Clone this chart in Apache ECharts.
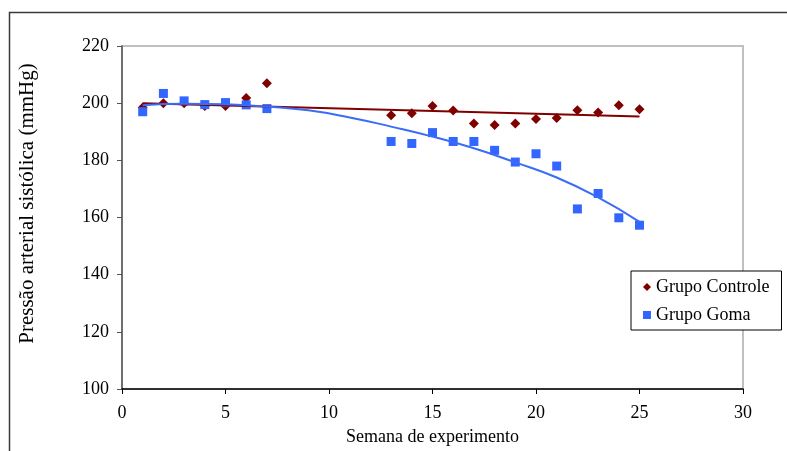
<!DOCTYPE html>
<html>
<head>
<meta charset="utf-8">
<script src="https://cdn.jsdelivr.net/npm/echarts@6/dist/echarts.min.js"></script>
<style>
  html, body { margin: 0; padding: 0; background: #fff; }
  #chart { width: 787px; height: 451px; }
</style>
</head>
<body>
<div id="chart"></div>
<script>
// semanas com medição
var weeks = [1, 2, 3, 4, 5, 6, 7, 13, 14, 15, 16, 17, 18, 19, 20, 21, 22, 23, 24, 25];
var controle = [198.5, 200, 200, 199, 199, 201.8, 207, 195.8, 196.5, 199, 197.4, 192.9, 192.4, 192.9, 194.5, 194.8, 197.5, 196.7, 199.3, 197.9];
var goma = [197, 203.4, 200.8, 199.5, 200.2, 199.4, 198.1, 186.6, 185.9, 189.7, 186.6, 186.6, 183.5, 179.4, 182.3, 178, 163, 168.4, 159.9, 157.3];

// linhas de tendência
var trendControleX = [1, 25];
var trendControleY = [200, 195.3];
var trendGomaX = [1, 3, 5, 7, 9, 11, 13, 15, 17, 19, 21, 23, 25];
var trendGomaY = [199.3, 199.8, 199.6, 198.8, 197.5, 195.0, 191.8, 188.3, 184.2, 179.3, 174.0, 167.0, 158.5];

var xTicks = [0, 30, 5];
var yTicks = [100, 220, 20];

function pairs(xs, ys) {
  return xs.map(function (x, i) { return [x, ys[i]]; });
}

var font = 'Liberation Serif';
var chart = echarts.init(document.getElementById('chart'));
chart.setOption({
  animation: false,
  textStyle: { fontFamily: font },
  graphic: [
    {
      type: 'rect',
      left: 7,
      top: 10,
      shape: { width: 820, height: 480 },
      style: { fill: 'none', stroke: '#3a3a3a', lineWidth: 1.5 },
      z: -10
    }
  ],
  grid: {
    left: 122,
    right: 44,
    top: 46,
    bottom: 62,
    show: true,
    borderColor: '#c0c0c0',
    borderWidth: 2,
    backgroundColor: 'transparent'
  },
  legend: {
    left: 631,
    top: 271,
    orient: 'vertical',
    backgroundColor: '#fff',
    borderColor: '#000',
    borderWidth: 1,
    borderRadius: 0,
    padding: [6, 12, 5, 12],
    itemWidth: 8,
    itemHeight: 8,
    itemGap: 8,
    textStyle: { fontFamily: font, fontSize: 18, color: '#000', lineHeight: 20 },
    data: ['Grupo Controle', 'Grupo Goma']
  },
  xAxis: {
    type: 'value',
    min: xTicks[0],
    max: xTicks[1],
    interval: xTicks[2],
    name: 'Semana de experimento',
    nameLocation: 'middle',
    nameGap: 39,
    nameTextStyle: { fontFamily: font, fontSize: 18, color: '#000' },
    axisLine: { lineStyle: { color: '#000', width: 1.5 } },
    axisTick: { show: true, inside: false, length: 5, lineStyle: { color: '#000' } },
    axisLabel: { fontFamily: font, fontSize: 18, color: '#000', margin: 15 },
    splitLine: { show: false }
  },
  yAxis: {
    type: 'value',
    min: yTicks[0],
    max: yTicks[1],
    interval: yTicks[2],
    name: 'Pressão arterial sistólica (mmHg)',
    nameLocation: 'middle',
    nameGap: 84,
    nameTextStyle: { fontFamily: font, fontSize: 21, color: '#000', padding: [0, 0, 0, 28] },
    axisLine: { show: true, lineStyle: { color: '#555', width: 1.5 } },
    axisTick: { show: true, inside: false, length: 5, lineStyle: { color: '#555' } },
    axisLabel: { fontFamily: font, fontSize: 18, color: '#000', margin: 13 },
    splitLine: { show: false }
  },
  series: [
    {
      name: 'Grupo Controle',
      type: 'scatter',
      symbol: 'diamond',
      symbolSize: 10,
      itemStyle: { color: '#800000', opacity: 1 },
      data: pairs(weeks, controle),
      z: 2
    },
    {
      name: 'Grupo Goma',
      type: 'scatter',
      symbol: 'rect',
      symbolSize: 9,
      itemStyle: { color: '#3366ff', opacity: 1 },
      data: pairs(weeks, goma),
      z: 3
    },
    {
      name: 'tendência controle',
      type: 'line',
      showSymbol: false,
      symbol: 'none',
      lineStyle: { color: '#800000', width: 2 },
      data: pairs(trendControleX, trendControleY),
      z: 4
    },
    {
      name: 'tendência goma',
      type: 'line',
      smooth: true,
      showSymbol: false,
      symbol: 'none',
      lineStyle: { color: '#3a6cf5', width: 2 },
      data: pairs(trendGomaX, trendGomaY),
      z: 5
    }
  ]
});
</script>
</body>
</html>
